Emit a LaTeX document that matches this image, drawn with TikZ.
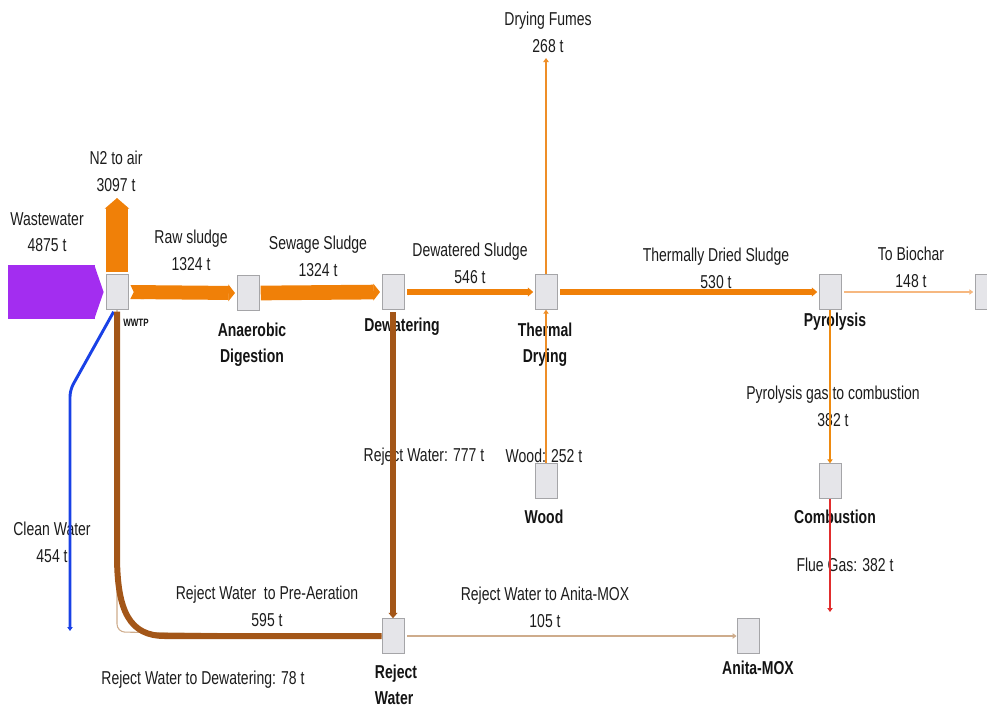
\documentclass[tikz,border=0pt]{standalone}
\usepackage{fontspec}
\setmainfont[FakeStretch=0.75]{Liberation Sans}
\usetikzlibrary{arrows.meta,calc}

\definecolor{flowOrange}{RGB}{240,128,8}
\definecolor{thinOrange}{RGB}{238,142,40}
\definecolor{gasOrange}{RGB}{238,138,16}
\definecolor{charPeach}{RGB}{246,184,128}
\definecolor{flowPurple}{RGB}{163,45,240}
\definecolor{flowBrown}{RGB}{163,86,24}
\definecolor{lightBrown}{RGB}{206,172,140}
\definecolor{flowBlue}{RGB}{25,65,230}
\definecolor{flowRed}{RGB}{225,45,45}
\definecolor{boxFill}{RGB}{229,229,233}
\definecolor{boxLine}{RGB}{165,165,168}
\definecolor{txtGray}{RGB}{28,28,28}

\pgfdeclarelayer{labels}
\pgfdeclarelayer{boxes}
\pgfsetlayers{labels,main,boxes}

\begin{document}
\begin{tikzpicture}[x=0.75pt,y=-0.75pt,
  unit/.style={draw=boxLine, fill=boxFill, line width=0.6pt,
    minimum width=16.5pt, minimum height=26pt, inner sep=0pt},
  flowtext/.style={font=\fontsize{14}{20}\selectfont, text=txtGray,
    align=center, inner sep=0pt},
  unittext/.style={font=\fontsize{14}{19.5}\selectfont\bfseries,
    text=black!92, align=center, inner sep=0pt},
  smalltip/.style={-{Triangle[length=3pt,width=4pt]}},
  midtip/.style={-{Triangle[length=4pt,width=6.5pt]}},
  bigtip/.style={-{Triangle[length=5pt,width=12.5pt]}}
]
\useasboundingbox (0,0) rectangle (987,711);

% process units
\begin{pgfonlayer}{boxes}
\node[unit] (wwtp) at (117,292) {};
\node[unit] (ad)   at (248,293) {};
\node[unit] (dew)  at (393,292) {};
\node[unit] (td)   at (546,292) {};
\node[unit] (pyr)  at (830,292) {};
\node[unit] (bio)  at (986,292) {};
\node[unit] (comb) at (830,481) {};
\node[unit] (wood) at (546,481) {};
\node[unit] (rw)   at (393,636) {};
\node[unit] (amox) at (748,636) {};
\end{pgfonlayer}

% free ends of the flows
\coordinate (wwin)   at (8,292);
\coordinate (n2top)  at (117,198);
\coordinate (fumes)  at (546,58);
\coordinate (flue)   at (830,612);
\coordinate (cwbend) at (70,390);
\coordinate (cwend)  at (70,631);
\coordinate (pa1)    at (117,555);
\coordinate (pa2)    at (165,636);
\coordinate (td1)    at (117,632);

% labels
\begin{pgfonlayer}{labels}
\node[flowtext] (lWaste) at (47,232)  {Wastewater\\4875 t};
\node[flowtext] (lN2)    at (116,171) {N2 to air\\3097 t};
\node[flowtext] (lRaw)   at (191,250) {Raw sludge\\1324 t};
\node[flowtext] (lSew)   at (318,256) {Sewage Sludge\\1324 t};
\node[flowtext] (lDewS)  at (470,263) {Dewatered Sludge\\546 t};
\node[flowtext] (lTDS)   at (716,268) {Thermally Dried Sludge\\530 t};
\node[flowtext] (lChar)  at (911,267) {To Biochar\\148 t};
\node[flowtext] (lFumes) at (548,32)  {Drying Fumes\\268 t};
\node[flowtext] (lGas)   at (833,406) {Pyrolysis gas to combustion\\382 t};
\node[flowtext] (lFlue)  at (845,565) {Flue Gas: 382 t};
\node[flowtext] (lWood)  at (544,456) {Wood: 252 t};
\node[flowtext] (lRej)   at (424,457) {Reject Water: 777 t};
\node[flowtext] (lPre)   at (267,606) {Reject Water\ \ to Pre-Aeration\\595 t};
\node[flowtext] (lToDew) at (203,680) {Reject Water to Dewatering: 78 t};
\node[flowtext] (lAmox)  at (545,607) {Reject Water to Anita-MOX\\105 t};
\node[flowtext] (lClean) at (52,542)  {Clean Water\\454 t};

\node[unittext, font=\fontsize{8}{9}\selectfont\bfseries] (tWWTP) at (136,323) {WWTP};
\node[unittext] (tAD)   at (252,345) {Anaerobic\\Digestion};
\node[unittext] (tDew)  at (402,327) {Dewatering};
\node[unittext] (tTD)   at (545,345) {Thermal\\Drying};
\node[unittext] (tPyr)  at (835,322) {Pyrolysis};
\node[unittext] (tComb) at (835,517) {Combustion};
\node[unittext] (tWood) at (544,517) {Wood};
\node[unittext, align=left] (tRW) at (396,685) {Reject\\Water};
\node[unittext] (tAmox) at (758,668) {Anita-MOX};
\end{pgfonlayer}

% main sludge line
\draw[flowPurple, line width=40.5pt, -{Triangle[length=7pt,width=40.5pt]}]
  (wwin) -- ([xshift=-1.5pt]wwtp.west);
\draw[flowOrange, line width=16.5pt, -{Triangle[length=8pt,width=18pt]}]
  ([yshift=1.5pt]wwtp.north) -- (n2top);
\draw[flowOrange, line width=10.5pt, {Triangle Cap[reversed,length=2.5pt]}-{Triangle[length=5pt,width=12.5pt]}]
  ([xshift=1.5pt]wwtp.east) -- ([xshift=-1.2pt]ad.west);
\draw[flowOrange, line width=11pt, bigtip]
  ([xshift=1pt]ad.east) -- ([xshift=-1.2pt]dew.west);
\draw[flowOrange, line width=4.5pt, midtip]
  ([xshift=2pt]dew.east) -- ([xshift=-1pt]td.west);
\draw[flowOrange, line width=3.8pt, midtip]
  ([xshift=2pt]td.east) -- ([xshift=-1pt]pyr.west);
\draw[charPeach, line width=2pt, smalltip]
  ([xshift=2pt]pyr.east) -- ([xshift=-1pt]bio.west);

% side streams of drying and pyrolysis
\draw[thinOrange, line width=1.8pt, smalltip] (td.north) -- (fumes);
\draw[thinOrange, line width=1.8pt, smalltip] (wood.north) -- (td.south);
\draw[gasOrange, line width=2.2pt, smalltip] (pyr.south) -- (comb.north);
\draw[flowRed, line width=1.5pt, smalltip] (comb.south) -- (flue);

% water streams
\draw[flowBlue, line width=2.2pt, rounded corners=5pt, smalltip]
  ([xshift=-2.5pt,yshift=-1.5pt]wwtp.south) -- (cwbend) -- (cwend);
\draw[lightBrown, line width=0.8pt, rounded corners=6pt]
  (wwtp.south) -- (td1) -- (rw.west);
\draw[flowBrown, line width=4.5pt]
  ([yshift=-1.5pt]wwtp.south) -- (pa1) .. controls (117,612) and (130,636) .. (pa2) -- (rw.west);
\draw[flowBrown, line width=4pt, midtip]
  ([yshift=-2pt]dew.south) -- (rw.north);
\draw[lightBrown, line width=1.5pt, smalltip]
  ([xshift=2pt]rw.east) -- (amox.west);
\end{tikzpicture}
\end{document}
